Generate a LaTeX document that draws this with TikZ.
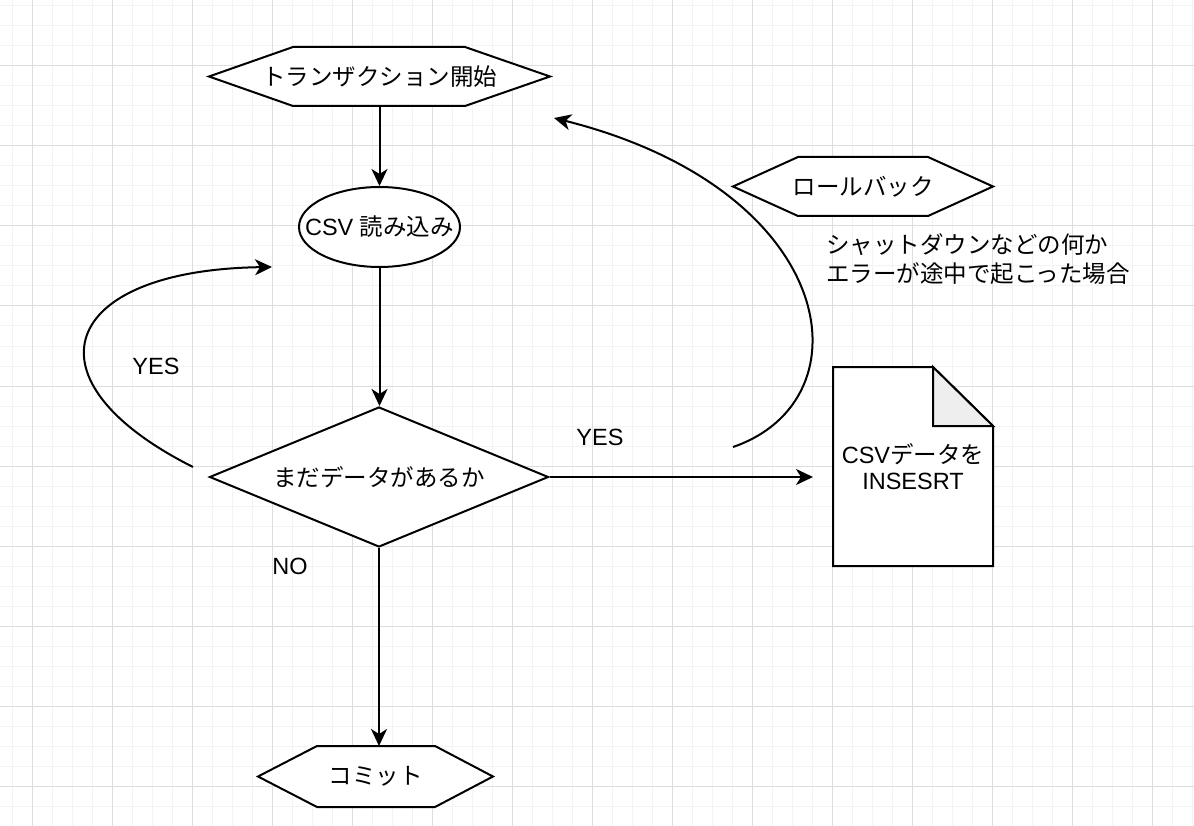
\documentclass[tikz,border=0pt]{standalone}
\usepackage{fontspec}
\setmainfont{Liberation Sans}
\newfontfamily\jp{Noto Sans CJK JP}
\usepackage{tikz}
\usetikzlibrary{arrows.meta,shapes.geometric}
\definecolor{gridminor}{HTML}{F3F3F3}
\definecolor{gridmajor}{HTML}{DEDEDE}
\definecolor{foldgray}{HTML}{EEEEEE}

\begin{document}
\begin{tikzpicture}[x=1pt, y=-1pt,
    font=\fontsize{23.5}{28}\selectfont,
    shapeframe/.style={draw=black, fill=white, line width=2pt},
    textbox/.style={inner sep=0pt, outer sep=0pt},
    flow/.style={line width=2pt, -{Stealth[length=17pt,width=16pt,inset=5pt]}}]
    \useasboundingbox (0,0) rectangle (1194,826);

    % Background grid
    \fill[white] (0,0) rectangle (1194,826);
    \foreach \gx in {12,32,...,1194} {
        \draw[gridminor, line width=1pt] (\gx,0) -- (\gx,826);
    }
    \foreach \gy in {6,26,...,826} {
        \draw[gridminor, line width=1pt] (0,\gy) -- (1194,\gy);
    }
    \foreach \gx in {32,112,...,1194} {
        \draw[gridmajor, line width=1pt] (\gx,0) -- (\gx,826);
    }
    \foreach \gy in {66,146,...,826} {
        \draw[gridmajor, line width=1pt] (0,\gy) -- (1194,\gy);
    }

    % Start of transaction
    \draw[shapeframe] (209,76.5) -- (293,47) -- (465,47) -- (550,76.5) -- (465,106) -- (293,106) -- cycle;
    \node[textbox, minimum width=341pt, minimum height=59pt] (start) at (379.5,76.5) {\jp トランザクション開始};

    % Read CSV
    \node[ellipse, shapeframe, inner sep=0pt, minimum width=161pt, minimum height=80pt] (read) at (379.5,227) {\makebox[0pt]{CSV {\jp 読み込み}}};

    % Decision
    \node[diamond, shapeframe, inner sep=0pt, aspect=2.4, minimum width=339pt, minimum height=140pt] (more) at (379,477) {\jp まだデータがあるか};

    % Commit
    \draw[shapeframe] (258,776.5) -- (317,746) -- (435,746) -- (493,776.5) -- (435,807) -- (317,807) -- cycle;
    \node[textbox, minimum width=235pt, minimum height=61pt] (commit) at (375.5,776.5) {\jp コミット};

    % Rollback
    \draw[shapeframe] (733,186.5) -- (798,157) -- (928,157) -- (993,186.5) -- (928,216) -- (798,216) -- cycle;
    \node[textbox, minimum width=260pt, minimum height=59pt] (rollback) at (863,186.5) {\jp ロールバック};
    \node[textbox, anchor=west, align=left, font=\fontsize{23.5}{29.5}\selectfont\jp] (note) at (826,259) {シャットダウンなどの何か\\エラーが途中で起こった場合};

    % Insert document
    \draw[shapeframe] (833,367) -- (933,367) -- (993,426) -- (993,566) -- (833,566) -- cycle;
    \draw[shapeframe, fill=foldgray] (933,367) -- (933,426) -- (993,426) -- cycle;
    \node[textbox, align=center, minimum width=160pt, minimum height=199pt, font=\fontsize{23.5}{26}\selectfont] (insert) at (913,466.5) {CSV{\jp データを}\\INSESRT};

    % Labels
    \node[textbox] (yesloop) at (156,366) {YES};
    \node[textbox] (yesright) at (600,437) {YES};
    \node[textbox] (no) at (290,566) {NO};

    % Connectors
    \draw[flow] (start.south) -- (read.north);
    \draw[flow] (read.south) -- (read.south |- more.north);
    \draw[flow] (more.south) -- (more.south |- commit.north);
    \draw[flow, shorten >=20pt] (more.east) -- (more.east -| insert.west);

    % Loop back and rollback curves
    \coordinate (loopfrom) at (193,467);
    \coordinate (loopto) at (272,267);
    \draw[flow] (loopfrom) .. controls (20,380) and (60,270) .. (loopto);
    \coordinate (rbfrom) at (733,447);
    \coordinate (rbto) at (554,118);
    \draw[flow] (rbfrom) .. controls (870,400) and (840,190) .. (rbto);
\end{tikzpicture}
\end{document}
